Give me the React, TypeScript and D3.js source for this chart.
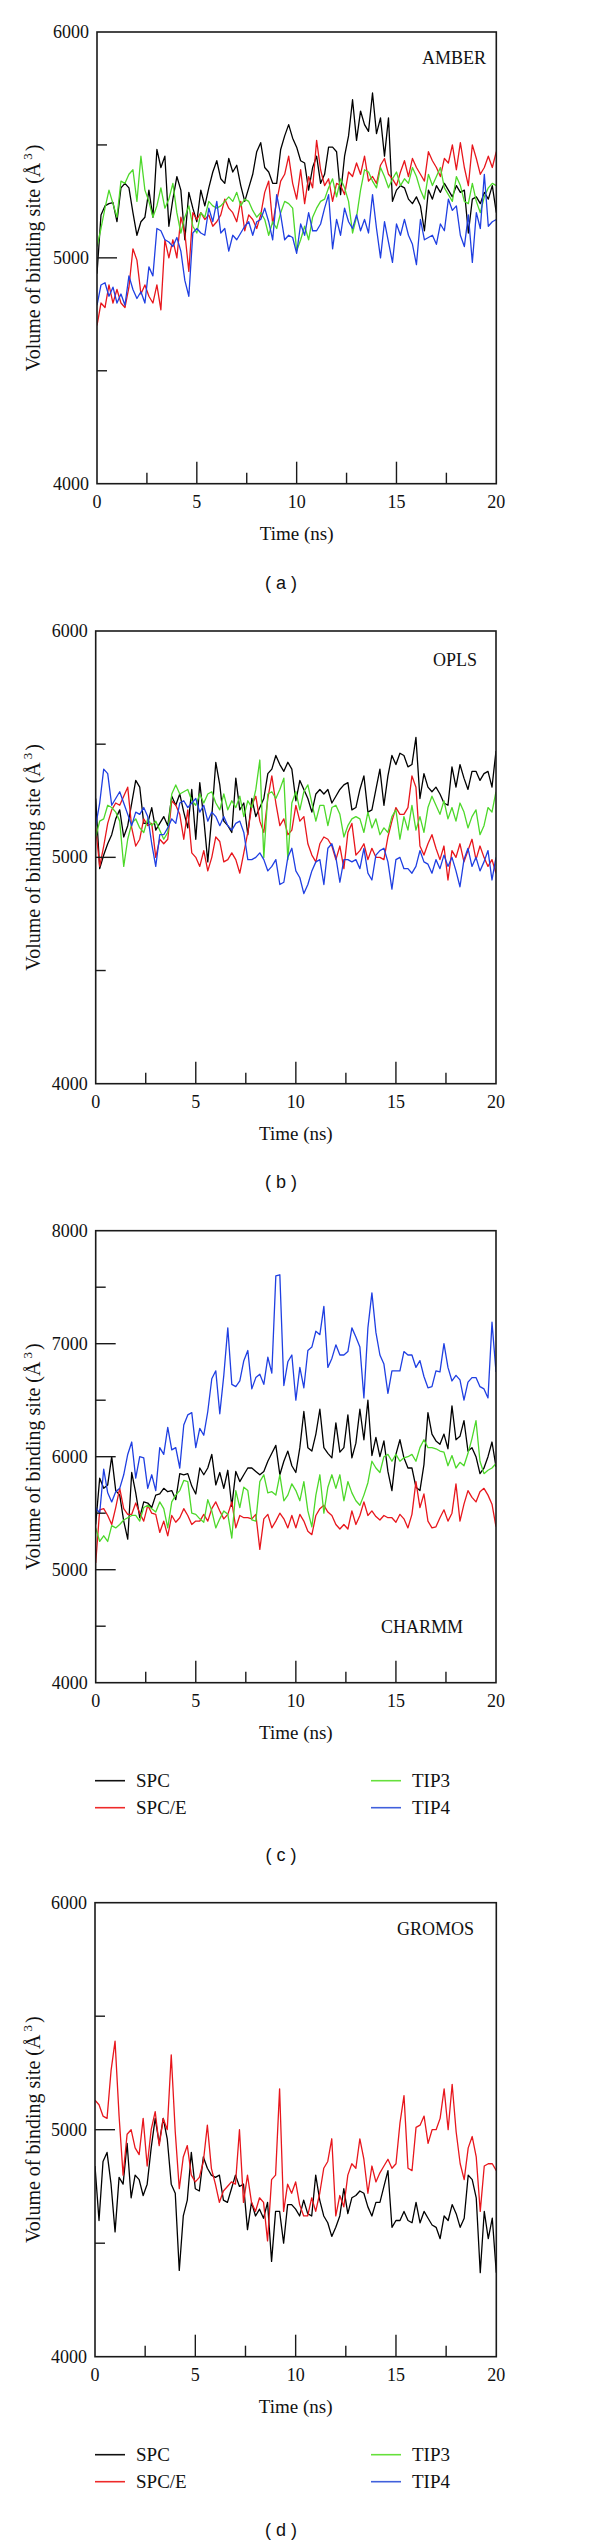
import React from 'react';
import * as d3 from 'd3';

// ---------- data (time step 0.2 ns, 0..20 ns) ----------
const STEP = 0.2;

const amberSPC = [
  4930, 5190, 5230, 5240, 5245, 5160, 5310, 5330, 5310, 5200,
  5100, 5160, 5180, 5300, 5180, 5480, 5400, 5450, 5140, 5260,
  5360, 5300, 5080, 5290, 5220, 5160, 5300, 5230, 5310, 5380,
  5430, 5350, 5330, 5440, 5380, 5410, 5320, 5250, 5310, 5370,
  5470, 5510, 5400, 5380, 5330, 5330, 5480, 5540, 5590, 5530,
  5490, 5430, 5420, 5300, 5400, 5450, 5330, 5370, 5490, 5490,
  5470, 5280, 5450, 5540, 5700, 5520, 5650, 5590, 5560, 5730,
  5550, 5620, 5450, 5620, 5250, 5300, 5320, 5310, 5260, 5240,
  5270, 5230, 5120, 5300, 5260, 5320, 5290, 5330, 5300, 5270,
  5320, 5290, 5300, 5110, 5260, 5270, 5240, 5290, 5260, 5320,
  5200,
];
const amberSPCE = [
  4700, 4800, 4780, 4880, 4800, 4860, 4800, 4780, 4870, 5040,
  4990, 4840, 4880, 4830, 4800, 4880, 4770, 5080, 5000, 5080,
  5000, 5180, 5110, 4940, 5200, 5170, 5200, 5170, 5190, 5140,
  5160, 5190, 5260, 5220, 5200, 5160, 5250, 5120, 5190, 5170,
  5130, 5190, 5290, 5340, 5150, 5250, 5340, 5370, 5450, 5330,
  5260, 5390, 5240, 5360, 5310, 5520, 5390, 5320, 5350, 5250,
  5330, 5320, 5280, 5380, 5360, 5420, 5370, 5450, 5340, 5360,
  5330, 5410, 5440, 5370, 5350, 5320, 5380, 5430, 5360, 5440,
  5400, 5370, 5340, 5470, 5430, 5400, 5360, 5440, 5420, 5500,
  5390, 5510, 5400, 5320, 5500, 5440, 5370, 5400, 5450, 5400,
  5470,
];
const amberTIP3 = [
  5050, 5130, 5220, 5300, 5240, 5180, 5340, 5330, 5370, 5390,
  5250, 5450, 5300, 5250, 5180, 5230, 5310, 5220, 5260, 5330,
  5200, 5110, 5180, 5230, 5140, 5110, 5200, 5180, 5250, 5230,
  5220, 5230, 5250, 5270, 5250, 5290, 5230, 5260, 5250, 5210,
  5180, 5200, 5170, 5100, 5160, 5130, 5200, 5250, 5240, 5220,
  5030, 5080, 5140, 5080, 5180, 5220, 5250, 5260, 5310, 5350,
  5270, 5350, 5310, 5250, 5110, 5180, 5300, 5390, 5380, 5340,
  5310, 5400, 5360, 5310, 5350, 5380, 5320, 5350, 5330, 5400,
  5360, 5300, 5260, 5370, 5320, 5360, 5400, 5310, 5280, 5250,
  5360, 5320, 5250, 5240, 5330, 5250, 5200, 5270, 5310, 5330,
  5320,
];
const amberTIP4 = [
  4790, 4880, 4890, 4830, 4870, 4800, 4840, 4790, 4920, 4860,
  4820, 4850, 4800, 4960, 4920, 5130, 5120, 5080, 5070, 5050,
  5090, 5030, 4900, 4830, 5110, 5130, 5110, 5100, 5220, 5160,
  5250, 5110, 5130, 5030, 5100, 5080, 5110, 5140, 5160, 5100,
  5160, 5170, 5220, 5160, 5080, 5280, 5190, 5080, 5100, 5090,
  5020, 5150, 5100, 5200, 5120, 5120, 5150, 5220, 5280, 5040,
  5170, 5100, 5220, 5160, 5130, 5190, 5120, 5170, 5110, 5280,
  5130, 5000, 5160, 5070, 4980, 5150, 5100, 5170, 5100, 5060,
  4970, 5170, 5080, 5090, 5100, 5060, 5150, 5120, 5260, 5210,
  5230, 5100, 5050, 5190, 4980, 5200, 5130, 5370, 5140, 5160,
  5170,
];

const oplsSPC = [
  5260, 4950, 5010, 5060, 5100, 5170, 5210, 5090, 5140, 5240,
  5340, 5310, 5150, 5150, 5220, 5120, 5150, 5180, 5140, 5270,
  5230, 5280, 5200, 5130, 5300, 5080, 5330, 5170, 4980, 5180,
  5420, 5320, 5160, 5140, 5110, 5350, 5210, 5240, 5100, 5260,
  5180, 5220, 5260, 5370, 5390, 5450, 5410, 5380, 5420, 5390,
  5250, 5340, 5300, 5260, 5200, 5280, 5300, 5280, 5300, 5240,
  5270, 5300, 5320, 5330, 5210, 5220, 5300, 5360, 5200, 5210,
  5300, 5390, 5230, 5360, 5450, 5410, 5460, 5450, 5400, 5410,
  5530, 5260, 5370, 5310, 5290, 5310, 5280, 5240, 5230, 5400,
  5310, 5410, 5350, 5300, 5380, 5380, 5340, 5370, 5380, 5310,
  5470,
];
const oplsSPCE = [
  5130, 4960, 5050, 5150, 5210, 5240, 5230, 5270, 5310, 5130,
  5050, 5080, 5170, 5140, 5150, 5000, 5080, 5060, 5080, 5250,
  5230, 5190, 5080, 5210, 5020, 5000, 4960, 5030, 4940, 5000,
  5090, 5070, 4980, 4990, 5020, 4990, 4930, 5020, 5110, 5230,
  5270, 5160, 5110, 5260, 5360, 5240, 5140, 5170, 5100, 5120,
  5230, 5160, 5180, 5060, 5010, 4980, 5060, 5090, 5080, 5050,
  4990, 5050, 4950, 5110, 5150, 5010, 5030, 5060, 4990, 5040,
  5000, 5000, 4990, 5090, 5160, 5220, 5190, 5190, 5220, 5360,
  5310, 5050, 5010, 5060, 5100, 5040, 4990, 5050, 4900, 5030,
  5000, 5060, 4980, 5030, 5080, 4990, 5050, 5000, 4960, 4990,
  4930,
];
const oplsTIP3 = [
  5090, 5160, 5170, 5230, 5220, 5200, 5160, 4960, 5080, 5150,
  5170, 5130, 5110, 5170, 5140, 5160, 5120, 5080, 5110, 5280,
  5320, 5280, 5290, 5300, 5250, 5230, 5280, 5240, 5280, 5290,
  5240, 5210, 5280, 5210, 5250, 5220, 5270, 5180, 5250, 5220,
  5300, 5430, 5000, 5280, 5290, 5260, 5300, 5350, 4990, 5240,
  5290, 5210, 5290, 5320, 5240, 5160, 5230, 5230, 5140, 5220,
  5230, 5190, 5090, 5140, 5170, 5180, 5170, 5110, 5200, 5130,
  5170, 5100, 5130, 5110, 5180, 5210, 5080, 5180, 5120, 5230,
  5120, 5180, 5110, 5220, 5270, 5230, 5190, 5250, 5170, 5220,
  5160, 5240, 5200, 5130, 5180, 5210, 5100, 5140, 5220, 5200,
  5290,
];
const oplsTIP4 = [
  5140, 5240, 5390, 5370, 5230, 5260, 5290, 5240, 5190, 5140,
  5200, 5190, 5220, 5180, 5060, 4960, 5100, 5100, 5130, 5170,
  5150, 5240, 5250, 5220, 5240, 5260, 5200, 5230, 5160, 5200,
  5180, 5140, 5180, 5140, 5120, 5150, 5160, 5110, 4990, 4990,
  5000, 5020, 4990, 4940, 4960, 4990, 4880, 4890, 5000, 5040,
  4940, 4910, 4840, 4880, 4940, 4980, 4990, 4880, 5040, 5060,
  5000, 4890, 4990, 4990, 4980, 4990, 4950, 5040, 4930, 4900,
  5010, 5030, 5040, 4980, 4860, 4990, 5000, 4950, 4950, 4930,
  4960, 5030, 4980, 4970, 4930, 4990, 4950, 5010, 4960, 5000,
  4940, 4870, 4990, 5040, 4960, 5000, 4940, 4980, 5030, 4900,
  5000,
];

const charmmSPC = [
  5400, 5810, 5720, 5750, 6000, 5700, 5660, 5430, 5270, 5860,
  5680, 5460, 5600, 5590, 5550, 5660, 5670, 5720, 5690, 5700,
  5620, 5850, 5840, 5850, 5740, 5670, 5900, 5840, 5900, 6020,
  5750, 5860, 5720, 5880, 5560, 5870, 5780, 5840, 5900, 5900,
  5870, 5840, 5870, 5960, 6030, 6100, 5840, 5960, 6050, 5920,
  5860, 6080, 6400, 6080, 6050, 6200, 6420, 6080, 6030, 5990,
  6300, 6040, 6080, 6370, 5990, 6120, 6420, 6150, 6500, 6010,
  6170, 6000, 6140, 5870, 5700, 6020, 6150, 5990, 5900, 5900,
  5730, 5700, 5930, 6390, 6200, 6140, 6110, 6200, 6070, 6450,
  6150, 6180, 6320, 6050, 6080, 6000, 5850, 5900, 6000, 6130,
  5910,
];
const charmmSPCE = [
  5060, 5530, 5540, 5480, 5400, 5550, 5720, 5540, 5490, 5490,
  5590, 5500, 5430, 5570, 5500, 5490, 5330, 5430, 5300, 5480,
  5420, 5460, 5540, 5480, 5400, 5430, 5430, 5490, 5430, 5540,
  5600, 5520, 5450, 5490, 5600, 5370, 5480, 5460, 5460, 5450,
  5490, 5180, 5450, 5490, 5370, 5430, 5500, 5450, 5370, 5480,
  5370, 5490, 5430, 5340, 5310, 5480, 5540, 5570, 5510, 5480,
  5400, 5360, 5400, 5360, 5520, 5400, 5480, 5600, 5480, 5520,
  5470, 5440, 5480, 5460, 5460, 5420, 5490, 5450, 5370, 5490,
  5780, 5550, 5670, 5430, 5370, 5380, 5460, 5530, 5430, 5500,
  5760, 5430, 5580, 5700, 5640, 5600, 5690, 5720, 5660, 5580,
  5380,
];
const charmmTIP3 = [
  5370, 5250, 5300, 5250, 5390, 5370, 5400, 5440, 5460, 5480,
  5480, 5430, 5550, 5570, 5540, 5510, 5600, 5540, 5370, 5600,
  5660, 5700, 5790, 5780, 5500, 5490, 5450, 5420, 5620, 5520,
  5370, 5450, 5520, 5490, 5280, 5700, 5550, 5730, 5700, 5440,
  5430, 5780, 5840, 5680, 5690, 5660, 5840, 5610, 5660, 5760,
  5700, 5610, 5780, 5520, 5380, 5660, 5840, 5500, 5730, 5840,
  5720, 5840, 5610, 5780, 5680, 5610, 5570, 5660, 5770, 5960,
  5900, 5860, 6000, 6020, 5960, 6020, 5960, 5990, 6000, 6020,
  5960, 6080, 6150, 6080, 6080, 6070, 6050, 6040, 5920, 6010,
  5900, 5950, 5920, 6030, 6160, 6320, 5960, 5850, 5880, 5900,
  5940,
];
const charmmTIP4 = [
  5550, 5500, 5890, 5680, 5600, 5690, 5720, 5840, 6020, 6130,
  5810, 6000, 5990, 5720, 5840, 5700, 6080, 6020, 6260, 6060,
  6080, 5900, 6280, 6370, 6390, 6080, 6250, 6190, 6400, 6690,
  6760, 6380, 6720, 7140, 6640, 6620, 6670, 6850, 6940, 6600,
  6700, 6730, 6640, 6880, 6740, 7600, 7610, 6630, 6840, 6900,
  6500, 6790, 6610, 6940, 6970, 7110, 7080, 7330, 6790, 6870,
  6990, 6900, 6900, 6930, 7140, 7060, 6970, 6520, 7140, 7450,
  7100, 6900, 6820, 6560, 6760, 6760, 6760, 6930, 6900, 6900,
  6790, 6850, 6710, 6610, 6620, 6760, 6750, 7000, 6790, 6670,
  6720, 6680, 6500, 6660, 6700, 6700, 6620, 6600, 6520, 7190,
  6750,
];

const gromosSPC = [
  4840, 4600, 4860, 4900, 4760, 4550, 4790, 4760, 4940, 4700,
  4800, 4780, 4710, 4760, 4920, 5050, 4940, 5050, 4960, 4760,
  4720, 4380, 4620, 4690, 4900, 4740, 4730, 4880, 4830, 4800,
  4790, 4800, 4690, 4680, 4740, 4800, 4750, 4760, 4560, 4680,
  4620, 4650, 4610, 4680, 4420, 4640, 4640, 4500, 4670, 4670,
  4650, 4620, 4690, 4630, 4620, 4800, 4690, 4620, 4590, 4530,
  4570, 4620, 4740, 4630, 4700, 4710, 4730, 4720, 4660, 4620,
  4680, 4680, 4750, 4820, 4570, 4600, 4600, 4640, 4600, 4590,
  4680, 4590, 4640, 4610, 4580, 4570, 4520, 4620, 4600, 4670,
  4630, 4570, 4610, 4800, 4780, 4700, 4370, 4640, 4520, 4610,
  4370,
];
const gromosSPCE = [
  5130, 5110, 5060, 5050, 5260, 5390, 5060, 4800, 4980, 5000,
  4920, 4890, 5050, 4840, 5000, 5080, 4930, 5050, 5000, 5330,
  4990, 4740, 4880, 4930, 4800, 4770, 4790, 4860, 5020, 4830,
  4760, 4680, 4730, 4750, 4770, 4760, 5000, 4680, 4800, 4680,
  4640, 4700, 4680, 4510, 4780, 4800, 5180, 4640, 4760, 4720,
  4770, 4670, 4620, 4620, 4700, 4640, 4720, 4830, 4860, 4960,
  4620, 4710, 4660, 4800, 4850, 4830, 4960, 4870, 4720, 4840,
  4770, 4810, 4840, 4870, 4830, 4850, 5030, 5150, 4830, 4820,
  5010, 5020, 5060, 4940, 5000, 5000, 5050, 5180, 5000, 5200,
  4990, 4850, 4780, 4920, 4970, 4880, 4640, 4840, 4850, 4850,
  4820,
];

const SERIES_NAMES = ['SPC', 'SPC/E', 'TIP3', 'TIP4'];
const SERIES_COLORS = ['#000000', '#e8161c', '#4dd82a', '#1f3fe2'];
const LEGEND_COLORS = ['#111111', '#ee2a2a', '#66e03c', '#4060dc'];

const X_LABELS = [0, 5, 10, 15, 20];
const X_MAJOR = [5, 10, 15];
const X_MINOR = [2.5, 7.5, 12.5, 17.5];
const Y_LABELS_6K = [4000, 5000, 6000];
const Y_MAJOR_6K = [5000];
const Y_MINOR_6K = [4500, 5500];
const Y_LABELS_8K = [4000, 5000, 6000, 7000, 8000];
const Y_MAJOR_8K = [5000, 6000, 7000];
const Y_MINOR_8K = [4500, 5500, 6500, 7500];

const SERIF = '"Liberation Serif", "Times New Roman", Times, serif';
const SANS = '"Liberation Sans", Arial, Helvetica, sans-serif';

const panels = [
  {
    key: 'a', name: 'AMBER', letter: '( a )',
    series: [amberSPC, amberSPCE, amberTIP3, amberTIP4],
    yDomain: [4000, 6000], yLabels: Y_LABELS_6K, yMajor: Y_MAJOR_6K, yMinor: Y_MINOR_6K,
    left: 97, right: 496.3, top: 32, bottom: 483.7,
    nameX: 486, nameY: 64, legend: false, letterY: 589,
  },
  {
    key: 'b', name: 'OPLS', letter: '( b )',
    series: [oplsSPC, oplsSPCE, oplsTIP3, oplsTIP4],
    yDomain: [4000, 6000], yLabels: Y_LABELS_6K, yMajor: Y_MAJOR_6K, yMinor: Y_MINOR_6K,
    left: 95.7, right: 496, top: 631, bottom: 1083.7,
    nameX: 477, nameY: 666, legend: false, letterY: 1188,
  },
  {
    key: 'c', name: 'CHARMM', letter: '( c )',
    series: [charmmSPC, charmmSPCE, charmmTIP3, charmmTIP4],
    yDomain: [4000, 8000], yLabels: Y_LABELS_8K, yMajor: Y_MAJOR_8K, yMinor: Y_MINOR_8K,
    left: 95.7, right: 496, top: 1230.7, bottom: 1682.7,
    nameX: 463, nameY: 1633, legend: true, letterY: 1861,
  },
  {
    key: 'd', name: 'GROMOS', letter: '( d )',
    series: [gromosSPC, gromosSPCE, null, null],
    yDomain: [4000, 6000], yLabels: Y_LABELS_6K, yMajor: Y_MAJOR_6K, yMinor: Y_MINOR_6K,
    left: 95, right: 496.3, top: 1902.7, bottom: 2356.7,
    nameX: 474, nameY: 1935, legend: true, letterY: 2536,
  },
];

function Panel({ p }: { p: any }) {
  const x = d3.scaleLinear().domain([0, 20]).range([p.left, p.right]);
  const y = d3.scaleLinear().domain(p.yDomain).range([p.bottom, p.top]);
  const line = d3
    .line<number>()
    .x((_, i) => x(i * STEP))
    .y((v) => y(v));
  const midY = (p.top + p.bottom) / 2;
  const midX = (p.left + p.right) / 2;
  const clipId = `clip-${p.key}`;
  return (
    <g>
      <defs>
        <clipPath id={clipId}>
          <rect x={p.left} y={p.top} width={p.right - p.left} height={p.bottom - p.top} />
        </clipPath>
      </defs>
      <g clipPath={`url(#${clipId})`}>
        {p.series.map((s: number[] | null, k: number) =>
          s ? (
            <path key={k} d={line(s) || ''} fill="none" stroke={SERIES_COLORS[k]}
              strokeWidth={1.3} strokeLinejoin="round" />
          ) : null
        )}
      </g>
      {/* ticks */}
      {X_MAJOR.map((t) => (
        <line key={'xM' + t} x1={x(t)} x2={x(t)} y1={p.bottom} y2={p.bottom - 22} stroke="#1a1a1a" strokeWidth={1.4} />
      ))}
      {X_MINOR.map((t) => (
        <line key={'xm' + t} x1={x(t)} x2={x(t)} y1={p.bottom} y2={p.bottom - 11} stroke="#1a1a1a" strokeWidth={1.4} />
      ))}
      {p.yMajor.map((v: number) => (
        <line key={'yM' + v} x1={p.left} x2={p.left + 20} y1={y(v)} y2={y(v)} stroke="#1a1a1a" strokeWidth={1.4} />
      ))}
      {p.yMinor.map((v: number) => (
        <line key={'ym' + v} x1={p.left} x2={p.left + 10} y1={y(v)} y2={y(v)} stroke="#1a1a1a" strokeWidth={1.4} />
      ))}
      <rect x={p.left} y={p.top} width={p.right - p.left} height={p.bottom - p.top}
        fill="none" stroke="#1a1a1a" strokeWidth={1.6} />
      {/* tick labels */}
      {X_LABELS.map((t) => (
        <text key={'xl' + t} x={x(t)} y={p.bottom + 24} textAnchor="middle"
          fontFamily={SERIF} fontSize={18} fill="#111">{t}</text>
      ))}
      {p.yLabels.map((v: number) => (
        <text key={'yl' + v} x={p.left - 8} y={y(v)} dy="0.34em" textAnchor="end"
          fontFamily={SERIF} fontSize={18} fill="#111">{v}</text>
      ))}
      {/* axis titles */}
      <text x={midX} y={p.bottom + 56} textAnchor="middle" fontFamily={SERIF} fontSize={19} fill="#111">
        Time (ns)
      </text>
      <text transform={`translate(40,${midY}) rotate(-90)`} textAnchor="middle"
        fontFamily={SERIF} fontSize={20} fill="#111">
        Volume of binding site (Å
        <tspan dx={3} dy={-8} fontSize={13}>3</tspan>
        <tspan dx={2} dy={8}>)</tspan>
      </text>
      {/* force-field name */}
      <text x={p.nameX} y={p.nameY} textAnchor="end" fontFamily={SERIF} fontSize={18} fill="#111">
        {p.name}
      </text>
      {/* legend */}
      {p.legend && (
        <g fontFamily={SERIF} fontSize={19} fill="#111">
          {SERIES_NAMES.map((n, k) => {
            const col = k < 2 ? 0 : 1;
            const row = k % 2;
            const lx = col === 0 ? 95 : 371;
            const ly = p.bottom + 98 + row * 27;
            return (
              <g key={n}>
                <line x1={lx} x2={lx + 30} y1={ly} y2={ly} stroke={LEGEND_COLORS[k]} strokeWidth={1.6} />
                <text x={lx + 41} y={ly + 6.5}>{n}</text>
              </g>
            );
          })}
        </g>
      )}
      {/* panel letter */}
      <text x={281} y={p.letterY} textAnchor="middle" fontFamily={SANS} fontSize={18} fill="#111">
        {p.letter}
      </text>
    </g>
  );
}

export default function App() {
  return (
    <svg width={600} height={2546} viewBox="0 0 600 2546"
      style={{ position: 'absolute', left: 0, top: 0, background: '#ffffff' }}>
      <rect x={0} y={0} width={600} height={2546} fill="#ffffff" />
      {panels.map((p) => (
        <Panel key={p.key} p={p} />
      ))}
    </svg>
  );
}
